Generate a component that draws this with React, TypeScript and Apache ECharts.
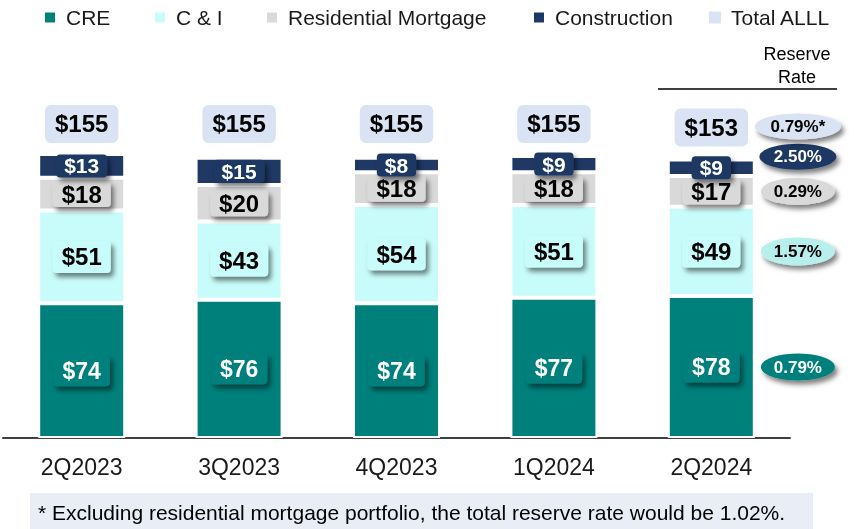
import React, { useEffect, useRef } from "react";
import * as echarts from "echarts";

const categories = ["2Q2023", "3Q2023", "4Q2023", "1Q2024", "2Q2024"];
const creValues = [74, 76, 74, 77, 78];
const ciValues = [51, 43, 54, 51, 49];
const resValues = [18, 20, 18, 18, 17];
const constrValues = [13, 15, 8, 9, 9];
const totalValues = [155, 155, 155, 155, 153];
const legendNames = ["CRE", "C & I", "Residential Mortgage", "Construction", "Total ALLL"];
const reserveRates = { cre: "0.79%", ci: "1.57%", res: "0.29%", constr: "2.50%", total: "0.79%*" };
const footnote = "* Excluding residential mortgage portfolio, the total reserve rate would be 1.02%.";

const C_CRE = "#00807b";
const C_CI = "#c8fcfa";
const C_RES = "#d9d9d9";
const C_CON = "#1f3864";
const C_TOT = "#dae3f3";
const FONT = "'Liberation Sans', Arial, sans-serif";

const shadow = {
  shadowBlur: 5,
  shadowOffsetX: 3,
  shadowOffsetY: 4,
  shadowColor: "rgba(0,0,0,0.5)",
};

export default function App() {
  const ref = useRef<HTMLDivElement>(null);
  useEffect(() => {
    if (!ref.current) return;
    const chart = echarts.init(ref.current, null, { renderer: "svg" });

    const segLabel = (bg: string, color: string, size: number, pad: number[]) => ({
      show: true,
      position: "inside",
      formatter: (p: any) => "$" + p.value,
      color,
      fontSize: size,
      lineHeight: size,
      fontWeight: "bold",
      fontFamily: FONT,
      backgroundColor: bg,
      borderRadius: 4,
      padding: pad,
      ...shadow,
    });

    const barItem = (color: string) => ({
      color,
      borderColor: "#ffffff",
      borderWidth: 2,
    });

    const last = categories.length - 1;
    const c = creValues[last];
    const ci = ciValues[last];
    const r = resValues[last];
    const k = constrValues[last];
    const xr = 1.01;
    const rateData = [
      { value: [xr, c / 2], name: reserveRates.cre, symbolSize: [74, 27], symbolOffset: [0, 0], itemStyle: { color: C_CRE, ...shadow }, label: { color: "#ffffff" } },
      { value: [xr, c + ci / 2], name: reserveRates.ci, symbolSize: [74, 28], symbolOffset: [0, 0], itemStyle: { color: "#b6efeb", ...shadow }, label: { color: "#000000" } },
      { value: [xr, c + ci + r / 2], name: reserveRates.res, symbolSize: [74, 27], symbolOffset: [0, 0], itemStyle: { color: C_RES, ...shadow }, label: { color: "#000000" } },
      { value: [xr, c + ci + r + k / 2], name: reserveRates.constr, symbolSize: [77, 26], symbolOffset: [0, -11], itemStyle: { color: C_CON, ...shadow }, label: { color: "#ffffff" } },
      { value: [xr, totalValues[last]], name: reserveRates.total, symbolSize: [86, 26], symbolOffset: [0, -33], itemStyle: { color: C_TOT, ...shadow }, label: { color: "#000000" } },
    ];

    const legendLefts = [38, 148, 260, 527, 704];
    const legends = legendNames.map((n, i) => ({
      left: legendLefts[i],
      top: 2,
      icon: "rect",
      itemWidth: 12,
      itemHeight: 12,
      textStyle: { fontSize: 21, color: "#1a1a1a", fontFamily: FONT, padding: [0, 0, 0, 5] },
      data: [i === 4 ? { name: n, itemStyle: { color: C_TOT } } : { name: n }],
    }));

    chart.setOption({
      animation: false,
      textStyle: { fontFamily: FONT },
      legend: legends,
      grid: { left: 3, right: 66, top: 74, bottom: 91 },
      xAxis: [
        {
          type: "category",
          data: categories,
          axisLine: { lineStyle: { color: "#404040", width: 2 } },
          axisTick: { show: false },
          axisLabel: { fontSize: 23, color: "#1a1a1a", margin: 17, fontFamily: FONT },
        },
        { type: "value", min: 0, max: 1, show: false, gridIndex: 0 },
      ],
      yAxis: { type: "value", min: 0, max: 200, show: false, splitLine: { show: false } },
      series: [
        {
          name: "CRE",
          type: "bar",
          stack: "a",
          barWidth: 87,
          data: creValues,
          itemStyle: barItem(C_CRE),
          label: segLabel(C_CRE, "#ffffff", 23, [4, 9]),
        },
        {
          name: "C & I",
          type: "bar",
          stack: "a",
          data: ciValues,
          itemStyle: barItem(C_CI),
          label: segLabel(C_CI, "#000000", 24, [4, 9]),
        },
        {
          name: "Residential Mortgage",
          type: "bar",
          stack: "a",
          data: resValues,
          itemStyle: barItem(C_RES),
          label: segLabel(C_RES, "#000000", 24, [1, 9]),
        },
        {
          name: "Construction",
          type: "bar",
          stack: "a",
          data: constrValues,
          itemStyle: barItem(C_CON),
          label: segLabel(C_CON, "#ffffff", 21, [1, 8]),
        },
        {
          name: "Total ALLL",
          type: "bar",
          stack: "t",
          barGap: "-100%",
          barWidth: 87,
          data: totalValues,
          itemStyle: { color: "rgba(0,0,0,0)" },
          z: 1,
          label: {
            show: true,
            position: "top",
            distance: 13,
            formatter: (p: any) => "$" + p.value,
            color: "#000000",
            fontSize: 24,
            lineHeight: 24,
            fontWeight: "bold",
            fontFamily: FONT,
            backgroundColor: C_TOT,
            borderRadius: 6,
            padding: [7, 10],
          },
        },
        {
          name: "Reserve Rate",
          type: "scatter",
          xAxisIndex: 1,
          yAxisIndex: 0,
          clip: false,
          symbol: "circle",
          data: rateData,
          z: 5,
          itemStyle: { opacity: 1 },
          label: {
            show: true,
            position: "inside",
            formatter: (p: any) => p.name,
            fontSize: 17,
            fontWeight: "bold",
            fontFamily: FONT,
          },
        },
      ],
      graphic: [
        {
          type: "text",
          x: 797,
          y: 42,
          style: {
            text: "Reserve\nRate",
            font: "18px " + FONT,
            fill: "#000000",
            align: "center",
            lineHeight: 23,
          },
        },
        {
          type: "line",
          shape: { x1: 658, y1: 89, x2: 837, y2: 89 },
          style: { stroke: "#000000", lineWidth: 1.5 },
        },
        {
          type: "rect",
          shape: { x: 30, y: 493, width: 783, height: 36 },
          style: { fill: "#e9edf6" },
        },
        {
          type: "text",
          x: 38,
          y: 512,
          style: {
            text: footnote,
            font: "21px " + FONT,
            fill: "#000000",
            align: "left",
            verticalAlign: "middle",
          },
        },
      ],
    });
    return () => chart.dispose();
  }, []);
  return (
    <div
      ref={ref}
      style={{ position: "fixed", left: 0, top: 0, width: 856, height: 529 }}
    />
  );
}
